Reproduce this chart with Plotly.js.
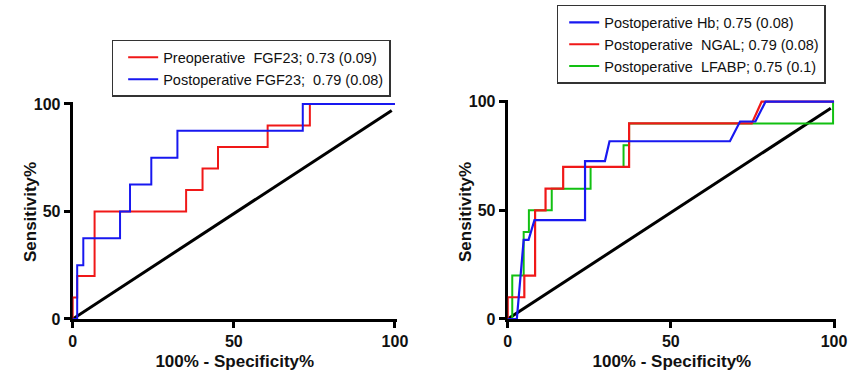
<!DOCTYPE html>
<html>
<head>
<meta charset="utf-8">
<script src="https://cdn.plot.ly/plotly-3.0.1.min.js"></script>
<style>html,body{margin:0;padding:0;background:#fff;}</style>
</head>
<body>
<div id="chart" style="width:857px;height:373px;"></div>
<script>
// ---- Data ----
// Left panel: FGF23
const preFGF23_fpr  = [0, 0, 1.4, 1.4, 6.8, 6.8, 35.2, 35.2, 40.3, 40.3, 45.1, 45.1, 60.5, 60.5, 73.6, 73.6, 100];
const preFGF23_sens = [0, 10, 10, 20, 20, 50, 50, 60, 60, 70, 70, 80, 80, 90, 90, 100, 100];
const postFGF23_fpr  = [0, 1.4, 1.4, 3.3, 3.3, 14.7, 14.7, 17.8, 17.8, 24.4, 24.4, 32.5, 32.5, 71.4, 71.4, 100];
const postFGF23_sens = [0, 0, 25, 25, 37.5, 37.5, 50, 50, 62.5, 62.5, 75, 75, 87.5, 87.5, 100, 100];
// Right panel: Hb, NGAL, LFABP
const hb_fpr  = [0, 2.8, 4.9, 6.4, 8.2, 23.7, 23.7, 29.8, 31.2, 68.1, 71.2, 75.9, 79.0, 100];
const hb_sens = [0, 0, 36.4, 36.4, 45.5, 45.5, 72.7, 72.7, 81.8, 81.8, 90.9, 90.9, 100, 100];
const ngal_fpr  = [0, 0, 5.1, 5.1, 8.4, 8.4, 11.6, 11.6, 17.0, 17.0, 37.2, 37.2, 74.8, 77.8, 100];
const ngal_sens = [0, 10, 10, 20, 20, 50, 50, 60, 60, 70, 70, 90, 90, 100, 100];
const lfabp_fpr  = [0, 1.4, 1.4, 4.9, 4.9, 6.5, 6.5, 13.5, 13.5, 25.4, 25.4, 35.5, 35.5, 37.2, 37.2, 99.7, 99.7];
const lfabp_sens = [0, 0, 20, 20, 40, 40, 50, 50, 60, 60, 70, 70, 80, 80, 90, 90, 100];
// Reference (identity) line
const diag_x = [0, 99];
const diag_y = [0, 97];
// Labels
const leftNames  = ['Preoperative\u00a0 FGF23; 0.73 (0.09)', 'Postoperative FGF23;\u00a0 0.79 (0.08)'];
const rightNames = ['Postoperative Hb; 0.75 (0.08)', 'Postoperative\u00a0 NGAL; 0.79 (0.08)', 'Postoperative\u00a0 LFABP; 0.75 (0.1)'];
const tickVals = [0, 50, 100];
const xTitle = '100% - Specificity%';
const yTitle = 'Sensitivity%';

const RED = '#f01818', BLUE = '#1818f0', GREEN = '#12c012';
const FONT = 'Liberation Sans, Arial, Helvetica, sans-serif';

const traces = [
  {x: diag_x, y: diag_y, xaxis: 'x', yaxis: 'y', mode: 'lines', line: {color: '#000', width: 3}, showlegend: false, hoverinfo: 'skip'},
  {x: preFGF23_fpr, y: preFGF23_sens, xaxis: 'x', yaxis: 'y', mode: 'lines', name: leftNames[0], line: {color: RED, width: 2}, legend: 'legend'},
  {x: postFGF23_fpr, y: postFGF23_sens, xaxis: 'x', yaxis: 'y', mode: 'lines', name: leftNames[1], line: {color: BLUE, width: 2}, legend: 'legend'},
  {x: diag_x, y: diag_y, xaxis: 'x2', yaxis: 'y2', mode: 'lines', line: {color: '#000', width: 3}, showlegend: false, hoverinfo: 'skip'},
  {x: lfabp_fpr, y: lfabp_sens, xaxis: 'x2', yaxis: 'y2', mode: 'lines', name: rightNames[2], line: {color: GREEN, width: 2}, legend: 'legend2', legendrank: 3},
  {x: ngal_fpr, y: ngal_sens, xaxis: 'x2', yaxis: 'y2', mode: 'lines', name: rightNames[1], line: {color: RED, width: 2.2}, legend: 'legend2', legendrank: 2},
  {x: hb_fpr, y: hb_sens, xaxis: 'x2', yaxis: 'y2', mode: 'lines', name: rightNames[0], line: {color: BLUE, width: 2.2}, legend: 'legend2', legendrank: 1}
];

function xAxis(domain, anchor) {
  return {
    domain: domain, anchor: anchor, range: [0, 100.6], fixedrange: true,
    showline: true, linecolor: '#000', linewidth: 3, layer: 'below traces',
    ticks: 'outside', ticklen: 6, tickwidth: 3, tickcolor: '#000',
    tickmode: 'array', tickvals: tickVals, ticktext: tickVals.map(String),
    showgrid: false, zeroline: false, automargin: false,
    tickfont: {family: FONT, size: 16, color: '#111', weight: 'bold'},
    title: {text: xTitle, standoff: 6, font: {family: FONT, size: 17, color: '#111', weight: 'bold'}}
  };
}
function yAxis(domain, anchor) {
  return {
    domain: domain, anchor: anchor, range: [0, 101], fixedrange: true,
    showline: true, linecolor: '#000', linewidth: 3, layer: 'below traces',
    ticks: 'outside', ticklen: 6, tickwidth: 3, tickcolor: '#000',
    tickmode: 'array', tickvals: tickVals, ticktext: tickVals.map(String),
    showgrid: false, zeroline: false, automargin: false,
    tickfont: {family: FONT, size: 16, color: '#111', weight: 'bold'}
  };
}
function yTitleAnn(xPaper) {
  return {
    text: yTitle, xref: 'paper', yref: 'paper', x: xPaper, y: 0.4316,
    xanchor: 'center', yanchor: 'middle', textangle: -90, showarrow: false,
    font: {family: FONT, size: 17, color: '#111', weight: 'bold'}
  };
}

const legendStyle = {
  xanchor: 'left', yanchor: 'top', bgcolor: '#fff', bordercolor: '#333', borderwidth: 1.5,
  font: {family: FONT, size: 14.5, color: '#111'}, tracegroupgap: 0
};

const layout = {
  width: 857, height: 373,
  margin: {l: 0, r: 0, t: 0, b: 0},
  paper_bgcolor: '#fff', plot_bgcolor: '#fff',
  showlegend: true,
  xaxis: xAxis([0.0848, 0.4631], 'y'),
  yaxis: yAxis([0.1448, 0.7270], 'x'),
  xaxis2: xAxis([0.5924, 0.9755], 'y2'),
  yaxis2: yAxis([0.1448, 0.7331], 'x2'),
  annotations: [yTitleAnn(30 / 857), yTitleAnn(465 / 857)],
  legend: Object.assign({}, legendStyle, {x: 0.1303, y: 0.893, indentation: 10}),
  legend2: Object.assign({}, legendStyle, {x: 0.6496, y: 0.9866, indentation: 6})
};

Plotly.newPlot('chart', traces, layout, {displayModeBar: false, staticPlot: true});
</script>
</body>
</html>
